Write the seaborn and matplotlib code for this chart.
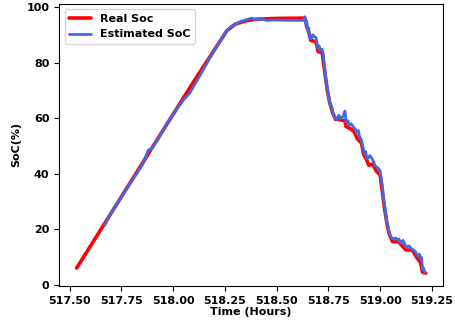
import pandas as pd
import numpy as np
import seaborn as sns
import matplotlib.pyplot as plt

# values
real_time = [517.534, 517.70, 517.90, 518.10, 518.26, 518.30, 518.35, 518.40, 518.50, 518.637,
             518.645, 518.655, 518.665, 518.69, 518.70, 518.72, 518.73, 518.745, 518.755, 518.77,
             518.785, 518.80, 518.83, 518.835, 518.86, 518.875, 518.89, 518.91, 518.92, 518.935,
             518.945, 518.965, 518.98, 519.00, 519.01, 519.02, 519.035, 519.045, 519.06, 519.09,
             519.10, 519.125, 519.155, 519.175, 519.195, 519.205, 519.22]
real_soc = [6.0, 25.7, 49.5, 73.2, 91.5, 93.8, 95.0, 95.6, 95.9, 96.0,
            93.0, 91.0, 88.0, 87.5, 84.0, 83.5, 78.0, 70.0, 66.0, 62.0,
            59.5, 59.5, 59.0, 57.0, 56.0, 55.0, 52.5, 51.0, 47.0, 45.0,
            43.0, 43.5, 41.0, 39.5, 34.0, 28.0, 21.0, 18.0, 15.5, 15.5,
            14.5, 12.5, 12.5, 10.0, 8.0, 4.5, 4.2]

est_time = [517.670, 517.700, 517.750, 517.800, 517.850, 517.880, 517.900, 517.930, 517.970, 518.000,
            518.050, 518.080, 518.100, 518.150, 518.200, 518.250, 518.280, 518.320, 518.360, 518.380,
            518.400, 518.420, 518.450, 518.500, 518.560, 518.630, 518.636, 518.640, 518.645, 518.650,
            518.655, 518.660, 518.668, 518.674, 518.680, 518.690, 518.700, 518.705, 518.710, 518.720,
            518.725, 518.730, 518.735, 518.740, 518.745, 518.750, 518.755, 518.760, 518.765, 518.770,
            518.775, 518.780, 518.790, 518.800, 518.810, 518.820, 518.830, 518.836, 518.845, 518.850,
            518.860, 518.870, 518.880, 518.885, 518.895, 518.900, 518.910, 518.915, 518.925, 518.930,
            518.935, 518.945, 518.950, 518.960, 518.970, 518.975, 518.990, 519.000, 519.005, 519.010,
            519.015, 519.020, 519.025, 519.030, 519.035, 519.040, 519.050, 519.060, 519.075, 519.085,
            519.090, 519.100, 519.110, 519.120, 519.125, 519.140, 519.150, 519.155, 519.170, 519.180,
            519.190, 519.195, 519.200, 519.205, 519.210, 519.215]
est_soc = [21.4, 25.8, 31.5, 37.2, 43.0, 48.5, 49.2, 52.8, 58.0, 61.5,
           66.5, 69.0, 71.5, 78.0, 84.5, 90.5, 93.0, 94.6, 95.6, 96.0,
           95.3, 95.8, 95.2, 95.3, 95.2, 95.2, 96.5, 94.0, 95.0, 92.0,
           92.5, 89.0, 88.5, 90.0, 89.5, 89.0, 85.0, 86.0, 84.5, 84.8,
           83.0, 79.0, 76.0, 72.0, 71.0, 68.0, 66.5, 64.0, 64.5, 62.5,
           61.0, 60.5, 59.5, 61.0, 59.8, 60.5, 62.5, 58.5, 59.0, 57.5,
           58.0, 56.8, 56.0, 55.0, 55.5, 53.5, 52.0, 50.0, 47.0, 48.0,
           45.5, 45.8, 46.5, 45.5, 44.0, 42.8, 42.0, 41.0, 38.0, 36.0,
           32.0, 29.0, 27.0, 23.0, 22.0, 20.0, 17.5, 16.5, 16.8, 16.0,
           16.5, 15.0, 16.0, 14.5, 13.5, 14.0, 13.0, 12.8, 12.0, 10.5,
           11.0, 9.5, 9.8, 5.5, 6.0, 4.5]

real = pd.DataFrame({'time': real_time, 'soc': real_soc})
est = pd.DataFrame({'time': est_time, 'soc': est_soc})

sns.set_style('ticks', {'axes.edgecolor': 'black', 'text.color': 'black',
                        'axes.labelcolor': 'black', 'xtick.color': 'black',
                        'ytick.color': 'black'})
plt.rcParams['font.family'] = ['DejaVu Sans']
plt.rcParams['font.weight'] = 'bold'

fig, ax = plt.subplots(figsize=(4.55, 3.26), dpi=100)
fig.subplots_adjust(left=0.13, right=0.974, top=0.988, bottom=0.123)

sns.lineplot(data=real, x='time', y='soc', ax=ax, color='red', linewidth=2.6, label='Real Soc')
sns.lineplot(data=est, x='time', y='soc', ax=ax, color='royalblue', linewidth=2.0, label='Estimated SoC')

ax.set_xlabel('Time (Hours)', fontsize=8, fontweight='bold', labelpad=1)
ax.set_ylabel('SoC(%)', fontsize=8, fontweight='bold', labelpad=4)
ax.set_xticks([517.50, 517.75, 518.00, 518.25, 518.50, 518.75, 519.00, 519.25])
ax.set_yticks([0, 20, 40, 60, 80, 100])
ax.xaxis.set_major_formatter(plt.FormatStrFormatter('%.2f'))
ax.tick_params(labelsize=8, length=3.5, width=0.8)
for lbl in ax.get_xticklabels() + ax.get_yticklabels():
    lbl.set_fontweight('bold')
for s in ax.spines.values():
    s.set_linewidth(0.8)

leg = ax.legend(loc='upper left', fontsize=8, frameon=True, handlelength=2.0)
for t in leg.get_texts():
    t.set_fontweight('bold')

plt.savefig('out.png', dpi=100)
